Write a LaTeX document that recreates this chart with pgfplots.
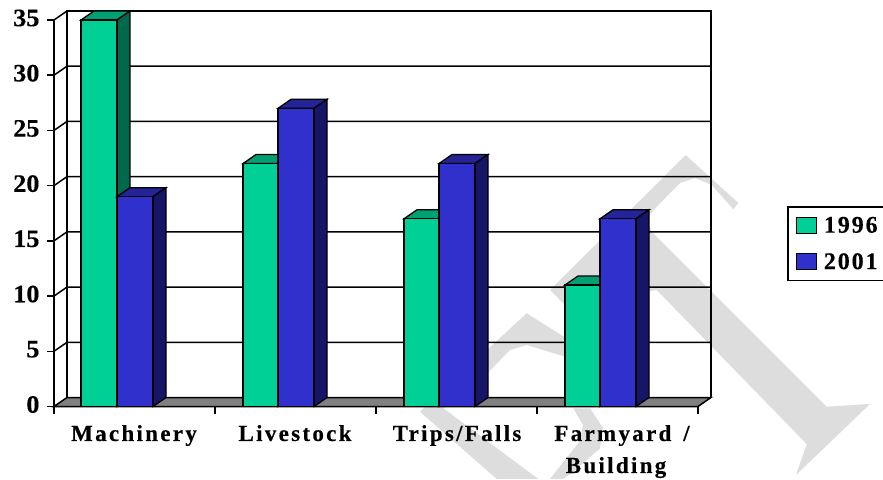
\documentclass[border=0pt]{standalone}
\usepackage{pgfplots}
\pgfplotsset{compat=1.18}
\usepackage{fontspec}
\setmainfont{Liberation Serif}
\newfontface\xlab{Liberation Serif Bold}[LetterSpace=10,FakeBold=0.3]
\newfontface\llab{Liberation Serif Bold}[LetterSpace=8,FakeBold=0.3]
\newfontface\ylab{Liberation Serif Bold}[FakeStretch=1.05,FakeBold=0.3]
\definecolor{gfront}{RGB}{0,208,150}
\definecolor{gtop}{RGB}{0,160,115}
\definecolor{gside}{RGB}{0,104,75}
\definecolor{bfront}{RGB}{48,48,205}
\definecolor{btop}{RGB}{36,36,150}
\definecolor{bside}{RGB}{22,22,105}
\definecolor{floorc}{RGB}{128,128,128}
\definecolor{wm}{RGB}{221,221,221}
\newcommand{\tdbar}[4]{%
 \addplot[draw=black,line width=1.3pt,fill=#4top] coordinates {(#1,#3)(#1+13,#3+0.815)(#2+13,#3+0.815)(#2,#3)} --cycle;
 \addplot[draw=black,line width=1.3pt,fill=#4side] coordinates {(#2,0)(#2+13,0.815)(#2+13,#3+0.815)(#2,#3)} --cycle;
 \addplot[draw=black,line width=1.3pt,fill=#4front] coordinates {(#1,0)(#1,#3)(#2,#3)(#2,0)} --cycle;
}
\begin{document}
\begin{tikzpicture}[x=1pt,y=1pt]
\path[use as bounding box] (-54,-72.5) rectangle (829,406.5);
\begin{axis}[
 axis on top,
 at={(0,0)},anchor=origin,
 scale only axis,width=644pt,height=386.5pt,
 xmin=54,xmax=698,ymin=0,ymax=35,clip=false,
 axis x line*=bottom,axis y line*=left,
 axis line style={line width=1.5pt,-},
 tick align=outside,tick style={line width=1.5pt,black},
 major tick length=7pt,minor tick length=7pt,
 ytick={0,5,...,35},
 xtick={134,295,457,622},
 minor xtick={54,215,376,537,698},
 major x tick style={draw=none},
 xticklabels={Machinery,Livestock,Trips/Falls,{Farmyard \,/\\Building\hspace*{12pt}}},
 x tick label style={font=\fontsize{23}{32}\xlab,align=center,yshift=-8pt,anchor=north},
 y tick label style={font=\fontsize{25}{25}\ylab,yshift=2pt,xshift=-4pt},
 /pgf/number format/assume math mode=true,
 legend cell align=left,
 legend style={at={(axis cs:787,18.15)},anchor=north west,draw=black,line width=1.5pt,
   font=\fontsize{24}{24}\llab,inner xsep=8pt,inner ysep=8pt,row sep=15pt,
   /tikz/every odd column/.append style={column sep=5pt}},
 legend image code/.code={\draw[#1,draw=black,line width=1.1pt] (0pt,-8pt) rectangle (20pt,8pt);},
]
\addlegendimage{fill=gfront}\addlegendentry{1996}
\addlegendimage{fill=bfront}\addlegendentry{2001}
% watermark
\addplot[fill=wm,draw=none] coordinates {(550,10.55)(685.7,22.77)(738.3,18.43)(733.3,17.86)(711.7,20.06)(695,20.69)(680,20.24)(656.7,18.09)(645,16.89)(653.3,15.68)(826.7,-0.02)(870,0.23)(796,-6.2)(806.7,-3.4)(656.7,10.55)(565,9.19)} --cycle;
\addplot[fill=wm,draw=none] coordinates {(526.7,8.44)(566,6.2)(566,4.48)(526.7,5.57)(510,5.12)(487.3,3.0)(470,1.5)(443.3,-0.16)(538.3,-6.56)(496.7,-6.56)(420,-0.47)} --cycle;
\addplot[fill=wm,draw=none] coordinates {(573.3,-0.16)(590,-0.16)(603.3,-1.97)(600,-3.79)(573.3,-5.9)(563,-6.56)(550,-6.56)(580,-3.12)(583,-1.68)} --cycle;
% walls
\addplot[black,line width=1.5pt] coordinates {(67,0.815)(67,35.815)(711,35.815)(711,0.815)};
\addplot[black,line width=1.5pt] coordinates {(54,5)(67,5.815)(711,5.815)};
\addplot[black,line width=1.5pt] coordinates {(54,10)(67,10.815)(711,10.815)};
\addplot[black,line width=1.5pt] coordinates {(54,15)(67,15.815)(711,15.815)};
\addplot[black,line width=1.5pt] coordinates {(54,20)(67,20.815)(711,20.815)};
\addplot[black,line width=1.5pt] coordinates {(54,25)(67,25.815)(711,25.815)};
\addplot[black,line width=1.5pt] coordinates {(54,30)(67,30.815)(711,30.815)};
\addplot[black,line width=1.5pt] coordinates {(54,35)(67,35.815)};
\addplot[draw=black,line width=1.5pt,fill=floorc] coordinates {(54,0)(67,0.815)(711,0.815)(698,0)} --cycle;
\tdbar{81}{117}{35}{g}
\tdbar{117}{153}{19}{b}
\tdbar{243}{278}{22}{g}
\tdbar{278}{314}{27}{b}
\tdbar{404}{439}{17}{g}
\tdbar{439}{475}{22}{b}
\tdbar{565}{600}{11}{g}
\tdbar{600}{636}{17}{b}
\end{axis}
\end{tikzpicture}
\end{document}
